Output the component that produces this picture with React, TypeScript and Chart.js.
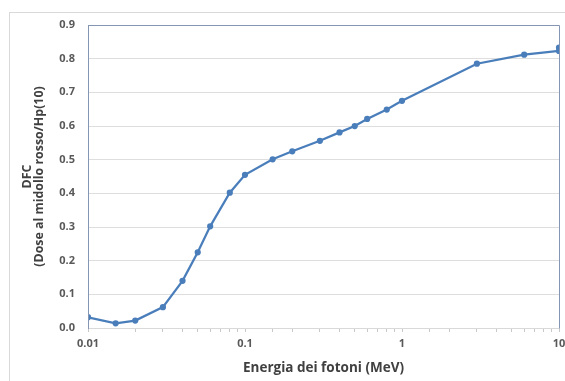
import React, { useEffect, useRef } from "react";
import { Chart, registerables } from "chart.js";

Chart.register(...registerables);

const energies = [0.01, 0.015, 0.02, 0.03, 0.04, 0.05, 0.06, 0.08, 0.1, 0.15, 0.2, 0.3, 0.4, 0.5, 0.6, 0.8, 1, 3, 6, 10, 10];
const dfcValues = [0.032, 0.014, 0.022, 0.062, 0.14, 0.225, 0.302, 0.402, 0.455, 0.501, 0.525, 0.556, 0.581, 0.6, 0.621, 0.649, 0.675, 0.785, 0.812, 0.823, 0.833];
const xMajorTicks = [0.01, 0.1, 1, 10];
const xTitle = "Energia dei fotoni (MeV)";
const yTitle = ["DFC", "(Dose al midollo rosso/Hp(10)"];

const FONT = "'Open Sans', 'DejaVu Sans', sans-serif";

const plotFrame = {
  id: "plotFrame",
  afterDraw(chart: any) {
    const { ctx, chartArea } = chart;
    const { left, right, top, bottom } = chartArea;
    ctx.save();
    ctx.lineWidth = 1;
    ctx.strokeStyle = "#8496b3";
    ctx.beginPath();
    ctx.moveTo(Math.round(left) + 0.5, Math.round(bottom) + 0.5);
    ctx.lineTo(Math.round(left) + 0.5, Math.round(top) + 0.5);
    ctx.lineTo(Math.round(right) + 0.5, Math.round(top) + 0.5);
    ctx.lineTo(Math.round(right) + 0.5, Math.round(bottom) + 0.5);
    ctx.stroke();
    ctx.restore();
  },
};

export default function App() {
  const ref = useRef<HTMLCanvasElement | null>(null);
  useEffect(() => {
    if (!ref.current) return;
    const chart = new Chart(ref.current, {
      type: "scatter",
      data: {
        datasets: [
          {
            data: energies.map((e, i) => ({ x: e, y: dfcValues[i] })),
            showLine: true,
            borderColor: "#4a7ebb",
            backgroundColor: "#4a7ebb",
            borderWidth: 2.25,
            pointRadius: 2,
            pointHoverRadius: 2,
            tension: 0,
          },
        ],
      },
      options: {
        animation: false,
        responsive: false,
        maintainAspectRatio: false,
        layout: { padding: { left: 21, top: 25, right: 6, bottom: 5 } },
        plugins: { legend: { display: false }, tooltip: { enabled: false } },
        scales: {
          x: {
            type: "logarithmic",
            min: 0.01,
            max: 10,
            afterFit: (s: any) => {
              s.height = 381 - 328 - 5;
              s.paddingRight = 0;
              s.paddingLeft = 0;
            },
            grid: {
              drawOnChartArea: false,
              drawTicks: true,
              tickLength: 4,
              color: "#c8c8c8",
            },
            border: { color: "#d9d9d9" },
            ticks: {
              autoSkip: false,
              maxRotation: 0,
              padding: 5,
              color: "#595959",
              font: { family: FONT, size: 11, weight: "bold" },
              callback: (v: any) => {
                const n = Number(v);
                const m = xMajorTicks.find((t) => Math.abs(t - n) / t < 1e-6);
                return m !== undefined ? String(m) : "";
              },
            },
            title: {
              display: true,
              text: xTitle,
              color: "#404040",
              font: { family: FONT, size: 13.5, weight: "bold" },
              padding: { top: 2, bottom: 0 },
            },
          },
          y: {
            min: 0,
            max: 0.9,
            afterFit: (s: any) => {
              s.width = 88 - 21;
            },
            grid: { color: "#dedede", drawTicks: false },
            border: { color: "#8496b3" },
            ticks: {
              stepSize: 0.1,
              padding: 13,
              color: "#595959",
              font: { family: FONT, size: 11, weight: "bold" },
              callback: (v: any) => Number(v).toFixed(1),
            },
            title: {
              display: true,
              text: yTitle,
              color: "#404040",
              font: { family: FONT, size: 12.4, weight: "bold", lineHeight: 1.0 },
              padding: { top: 0, bottom: 2 },
            },
          },
        },
      },
      plugins: [plotFrame],
    });
    return () => chart.destroy();
  }, []);
  return (
    <div style={{ position: "fixed", left: 0, top: 0, width: 565, height: 381, background: "#fff", overflow: "hidden" }}>
      <div
        style={{
          position: "absolute",
          left: 9,
          top: 12,
          width: 600,
          height: 400,
          border: "1px solid #d9d9d9",
          boxSizing: "border-box",
        }}
      />
      <canvas ref={ref} width={565} height={381} style={{ position: "absolute", left: 0, top: 0 }} />
    </div>
  );
}
